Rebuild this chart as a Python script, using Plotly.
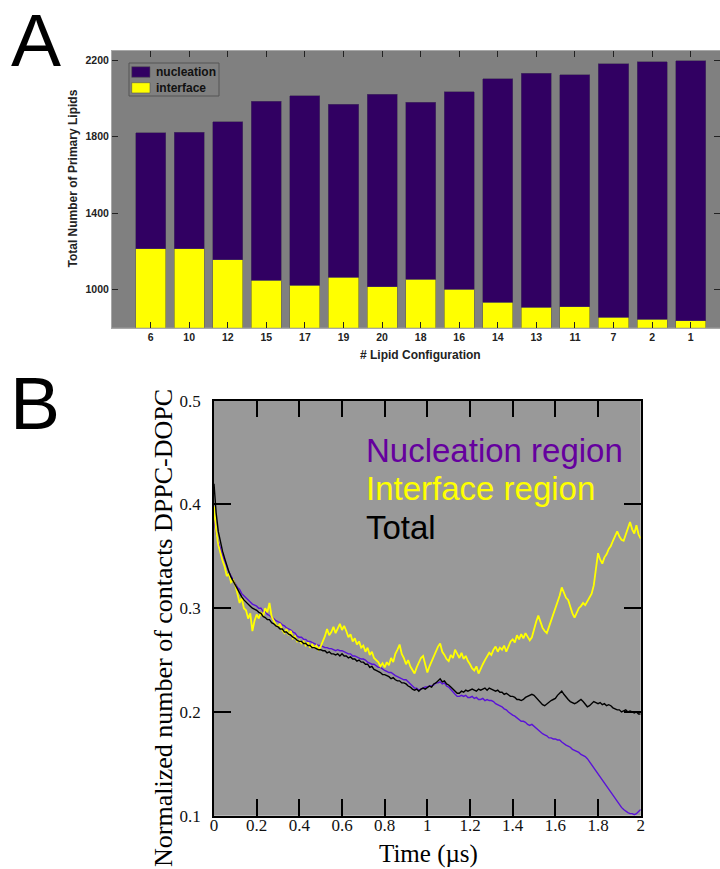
import plotly.graph_objects as go

# ---------------- Panel A data ----------------
configs = ["6", "10", "12", "15", "17", "19", "20", "18", "16", "14", "13", "11", "7", "2", "1"]
interface = [1212, 1212, 1157, 1049, 1021, 1064, 1014, 1054, 1000, 932, 906, 911, 854, 843, 836]
nucleation = [609, 611, 720, 936, 993, 905, 1008, 927, 1035, 1172, 1226, 1214, 1329, 1348, 1362]
yticks_a = [1000, 1400, 1800, 2200]

# ---------------- Panel B data ----------------
time_us = [round(i * 0.01, 2) for i in range(201)]

total = [
    0.420, 0.392, 0.374, 0.364, 0.355, 0.348, 0.341, 0.335, 0.330, 0.326,
    0.322, 0.318, 0.314, 0.311, 0.308, 0.306, 0.303, 0.302, 0.300, 0.299,
    0.298, 0.296, 0.295, 0.292, 0.291, 0.289, 0.289, 0.286, 0.285, 0.283,
    0.282, 0.280, 0.280, 0.277, 0.277, 0.275, 0.274, 0.272, 0.271, 0.269,
    0.268, 0.268, 0.266, 0.266, 0.264, 0.264, 0.262, 0.262, 0.261, 0.260,
    0.260, 0.259, 0.259, 0.257, 0.258, 0.256, 0.256, 0.255, 0.256, 0.254,
    0.256, 0.254, 0.254, 0.252, 0.253, 0.251, 0.251, 0.249, 0.250, 0.248,
    0.248, 0.246, 0.246, 0.243, 0.244, 0.241, 0.240, 0.239, 0.238, 0.236,
    0.236, 0.235, 0.234, 0.232, 0.233, 0.231, 0.230, 0.230, 0.228, 0.228,
    0.227, 0.225, 0.224, 0.222, 0.221, 0.222, 0.220, 0.222, 0.223, 0.222,
    0.224, 0.225, 0.224, 0.227, 0.228, 0.230, 0.232, 0.229, 0.230, 0.227,
    0.226, 0.224, 0.222, 0.220, 0.218, 0.218, 0.220, 0.219, 0.221, 0.220,
    0.221, 0.222, 0.221, 0.220, 0.222, 0.221, 0.222, 0.223, 0.221, 0.223,
    0.222, 0.221, 0.220, 0.221, 0.219, 0.219, 0.217, 0.218, 0.216, 0.215,
    0.215, 0.214, 0.212, 0.212, 0.211, 0.212, 0.214, 0.215, 0.216, 0.217,
    0.216, 0.214, 0.212, 0.210, 0.207, 0.206, 0.208, 0.209, 0.211, 0.212,
    0.213, 0.216, 0.218, 0.220, 0.217, 0.215, 0.212, 0.210, 0.209, 0.208,
    0.209, 0.211, 0.212, 0.210, 0.207, 0.205, 0.206, 0.208, 0.210, 0.209,
    0.208, 0.209, 0.207, 0.208, 0.206, 0.207, 0.206, 0.204, 0.203, 0.202,
    0.202, 0.200, 0.201, 0.202, 0.200, 0.201, 0.200, 0.199, 0.200, 0.198,
    0.198,
]

nucleation_region = [
    0.385, 0.372, 0.364, 0.357, 0.351, 0.346, 0.340, 0.335, 0.331, 0.327,
    0.324, 0.320, 0.318, 0.314, 0.312, 0.310, 0.307, 0.306, 0.304, 0.303,
    0.302, 0.300, 0.300, 0.297, 0.297, 0.294, 0.293, 0.291, 0.290, 0.288,
    0.287, 0.286, 0.284, 0.283, 0.281, 0.280, 0.279, 0.277, 0.276, 0.273,
    0.272, 0.272, 0.270, 0.270, 0.268, 0.268, 0.267, 0.266, 0.265, 0.264,
    0.264, 0.263, 0.262, 0.262, 0.261, 0.261, 0.260, 0.259, 0.260, 0.259,
    0.259, 0.258, 0.257, 0.256, 0.256, 0.254, 0.254, 0.253, 0.252, 0.251,
    0.251, 0.250, 0.248, 0.247, 0.246, 0.246, 0.244, 0.243, 0.243, 0.241,
    0.240, 0.239, 0.238, 0.238, 0.236, 0.235, 0.234, 0.233, 0.232, 0.231,
    0.231, 0.229, 0.227, 0.225, 0.223, 0.223, 0.221, 0.222, 0.223, 0.224,
    0.224, 0.225, 0.225, 0.226, 0.228, 0.228, 0.229, 0.227, 0.228, 0.225,
    0.224, 0.222, 0.220, 0.217, 0.215, 0.215, 0.216, 0.215, 0.216, 0.214,
    0.214, 0.215, 0.213, 0.214, 0.212, 0.212, 0.213, 0.211, 0.212, 0.211,
    0.211, 0.210, 0.208, 0.207, 0.206, 0.205, 0.203, 0.202, 0.200, 0.198,
    0.197, 0.196, 0.194, 0.193, 0.191, 0.191, 0.190, 0.188, 0.187, 0.188,
    0.186, 0.185, 0.183, 0.181, 0.179, 0.178, 0.177, 0.175, 0.175, 0.174,
    0.174, 0.173, 0.173, 0.171, 0.169, 0.168, 0.167, 0.166, 0.164, 0.163,
    0.162, 0.161, 0.159, 0.158, 0.157, 0.155, 0.152, 0.149, 0.146, 0.144,
    0.141, 0.138, 0.135, 0.132, 0.129, 0.126, 0.123, 0.120, 0.117, 0.113,
    0.110, 0.108, 0.106, 0.104, 0.103, 0.102, 0.102, 0.101, 0.102, 0.104,
    0.106,
]

interface_region = [
    0.398, 0.375, 0.361, 0.352, 0.346, 0.340, 0.331, 0.333, 0.325, 0.327,
    0.322, 0.314, 0.305, 0.310, 0.300, 0.298, 0.290, 0.295, 0.278, 0.288,
    0.294, 0.290, 0.296, 0.292, 0.300, 0.296, 0.305, 0.292, 0.288, 0.284,
    0.282, 0.285, 0.279, 0.276, 0.280, 0.274, 0.278, 0.271, 0.273, 0.268,
    0.269, 0.266, 0.268, 0.264, 0.267, 0.262, 0.265, 0.262, 0.264, 0.260,
    0.263, 0.268, 0.273, 0.280, 0.274, 0.277, 0.282, 0.276, 0.281, 0.285,
    0.279, 0.283, 0.278, 0.272, 0.275, 0.268, 0.271, 0.265, 0.268, 0.262,
    0.264, 0.258, 0.262, 0.255, 0.258, 0.252, 0.250, 0.248, 0.244, 0.247,
    0.243, 0.248, 0.245, 0.252, 0.248, 0.256, 0.260, 0.265, 0.256, 0.252,
    0.246, 0.250, 0.244, 0.240, 0.237, 0.243, 0.248, 0.252, 0.254, 0.246,
    0.238, 0.244, 0.249, 0.254, 0.258, 0.263, 0.266, 0.258, 0.255, 0.251,
    0.249, 0.255, 0.252, 0.260, 0.256, 0.252, 0.257, 0.251, 0.254, 0.249,
    0.246, 0.242, 0.240, 0.244, 0.237, 0.242, 0.246, 0.250, 0.253, 0.257,
    0.255, 0.260, 0.263, 0.258, 0.262, 0.260, 0.264, 0.258, 0.263, 0.268,
    0.270, 0.267, 0.274, 0.270, 0.275, 0.271, 0.276, 0.272, 0.269, 0.272,
    0.280, 0.287, 0.293, 0.286, 0.281, 0.278, 0.276, 0.282, 0.288, 0.293,
    0.298, 0.305, 0.312, 0.320, 0.314, 0.310, 0.308, 0.301, 0.295, 0.291,
    0.296, 0.300, 0.302, 0.305, 0.303, 0.307, 0.310, 0.314, 0.322, 0.340,
    0.353, 0.347, 0.343, 0.349, 0.352, 0.357, 0.360, 0.365, 0.369, 0.374,
    0.369, 0.366, 0.365, 0.371, 0.378, 0.383, 0.376, 0.372, 0.380, 0.371,
    0.367,
]

W, H = 720, 869


def py(p):
    return 1 - p / H


def px(p):
    return p / W


SANS = "Liberation Sans, Arial, sans-serif"
SERIF = "Liberation Serif, Times New Roman, serif"
NUC_COLOR = "#310062"
INT_COLOR = "#ffff00"

fig = go.Figure()

# Panel A bars
fig.add_trace(go.Bar(
    x=configs, y=interface, name="interface", width=0.78, showlegend=False,
    marker=dict(color=INT_COLOR, line=dict(color="#6a6a40", width=0.6)),
    xaxis="x", yaxis="y",
))
fig.add_trace(go.Bar(
    x=configs, y=nucleation, name="nucleation", width=0.78, showlegend=False,
    marker=dict(color=NUC_COLOR, line=dict(color="#4a3a5e", width=0.6)),
    xaxis="x", yaxis="y",
))

# Panel B lines
fig.add_trace(go.Scatter(
    x=time_us, y=nucleation_region, mode="lines", name="Nucleation region",
    line=dict(color="#5a12d8", width=1.4), showlegend=False, xaxis="x2", yaxis="y2",
))
fig.add_trace(go.Scatter(
    x=time_us, y=interface_region, mode="lines", name="Interface region",
    line=dict(color="#ffff00", width=1.8), showlegend=False, xaxis="x2", yaxis="y2",
))
fig.add_trace(go.Scatter(
    x=time_us, y=total, mode="lines", name="Total",
    line=dict(color="#000000", width=1.4), showlegend=False, xaxis="x2", yaxis="y2",
))

tickfont_a = dict(family=SANS, size=10.5, color="#222222", weight="bold")
tickfont_b = dict(family=SERIF, size=17, color="#111111")

fig.update_layout(
    width=W, height=H,
    margin=dict(l=0, r=0, t=0, b=0, autoexpand=False),
    paper_bgcolor="white",
    plot_bgcolor="#999999",
    barmode="stack",
    showlegend=False,
    xaxis=dict(
        domain=[px(112), 1.0], anchor="y", type="category",
        range=[-1.0, 14.76], ticks="inside", ticklen=6, tickwidth=1,
        tickcolor="#222222", showline=True, linecolor="#a8a8a8", linewidth=1,
        mirror="ticks", showgrid=False, zeroline=False, tickfont=tickfont_a,
    ),
    yaxis=dict(
        domain=[py(327.7), py(50.7)], anchor="x",
        range=[800, 2250], tickvals=yticks_a, ticks="inside", ticklen=6, tickwidth=1,
        tickcolor="#222222", showline=True, linecolor="#a8a8a8", linewidth=1,
        mirror="ticks", showgrid=False, zeroline=False, tickfont=tickfont_a,
    ),
    xaxis2=dict(
        domain=[px(214), px(640.7)], anchor="y2",
        range=[0, 2], dtick=0.2, tick0=0, ticks="inside", ticklen=17, tickwidth=1.5,
        tickcolor="black", showline=True, linecolor="black", linewidth=1.5,
        mirror="ticks", showgrid=False, zeroline=False, tickfont=tickfont_b,
        ticklabelstandoff=-7,
    ),
    yaxis2=dict(
        domain=[py(815.7), py(400.7)], anchor="x2",
        range=[0.1, 0.5], dtick=0.1, tick0=0.1, ticks="inside", ticklen=17, tickwidth=1.5,
        tickcolor="black", showline=True, linecolor="black", linewidth=1.5,
        mirror="ticks", showgrid=False, zeroline=False, tickfont=tickfont_b,
        ticklabelstandoff=8,
    ),
    # minor ticks of panel B drawn by overlaid label-less axes
    xaxis3=dict(
        overlaying="x2", anchor="y2", side="bottom",
        range=[0, 2], dtick=0.1, tick0=0, ticks="inside", ticklen=9, tickwidth=1.5,
        tickcolor="black", showline=False, mirror="ticks", showgrid=False,
        zeroline=False, showticklabels=False,
    ),
    yaxis3=dict(
        overlaying="y2", anchor="x2", side="left",
        range=[0.1, 0.5], dtick=0.05, tick0=0, ticks="inside", ticklen=9, tickwidth=1.5,
        tickcolor="black", showline=False, mirror="ticks", showgrid=False,
        zeroline=False, showticklabels=False,
    ),
)

shapes = [
    # panel A background
    dict(type="rect", xref="x domain", yref="y domain", x0=0, x1=1, y0=0, y1=1,
         fillcolor="#808080", line=dict(width=0), layer="below"),
    # panel A legend box and swatches
    dict(type="rect", xref="paper", yref="paper", x0=px(129), x1=px(219), y0=py(96), y1=py(63),
         fillcolor="#808080", line=dict(color="#555555", width=1), layer="above"),
    dict(type="rect", xref="paper", yref="paper", x0=px(131.7), x1=px(150), y0=py(77.3), y1=py(66.7),
         fillcolor=NUC_COLOR, line=dict(color="#555555", width=0.6), layer="above"),
    dict(type="rect", xref="paper", yref="paper", x0=px(131.7), x1=px(150), y0=py(93), y1=py(82.7),
         fillcolor=INT_COLOR, line=dict(color="#555555", width=0.6), layer="above"),
]
fig.update_layout(shapes=shapes)

annotations = [
    dict(text="A", x=px(35.5), y=py(40), font=dict(family=SANS, size=75, color="black")),
    dict(text="B", x=px(35), y=py(403), font=dict(family=SANS, size=75, color="black")),
    dict(text="nucleation", x=px(154), y=py(72), xanchor="left",
         font=dict(family=SANS, size=12, color="#111111", weight="bold")),
    dict(text="interface", x=px(154), y=py(88), xanchor="left",
         font=dict(family=SANS, size=12, color="#111111", weight="bold")),
    dict(text="Total Number of Primary Lipids", x=px(72.5), y=py(179), textangle=-90,
         font=dict(family=SANS, size=12, color="#222222", weight="bold")),
    dict(text="# Lipid Configuration", x=px(420), y=py(355),
         font=dict(family=SANS, size=12, color="#222222", weight="bold")),
    dict(text="Normalized number of contacts DPPC-DOPC", x=px(163), y=py(628), textangle=-90,
         font=dict(family=SERIF, size=26, color="black")),
    dict(text="Time (µs)", x=px(428), y=py(854),
         font=dict(family=SERIF, size=25, color="black")),
    dict(text="Nucleation region", x=px(364), y=py(450), xanchor="left",
         font=dict(family=SANS, size=33, color="#65009e")),
    dict(text="Interface region", x=px(364), y=py(488.5), xanchor="left",
         font=dict(family=SANS, size=33, color="#ffff00")),
    dict(text="Total", x=px(364), y=py(527), xanchor="left",
         font=dict(family=SANS, size=33, color="black")),
]
for a in annotations:
    a.setdefault("xanchor", "center")
    a.update(xref="paper", yref="paper", yanchor="middle", showarrow=False)
fig.update_layout(annotations=annotations)

fig.write_html("out.html")
